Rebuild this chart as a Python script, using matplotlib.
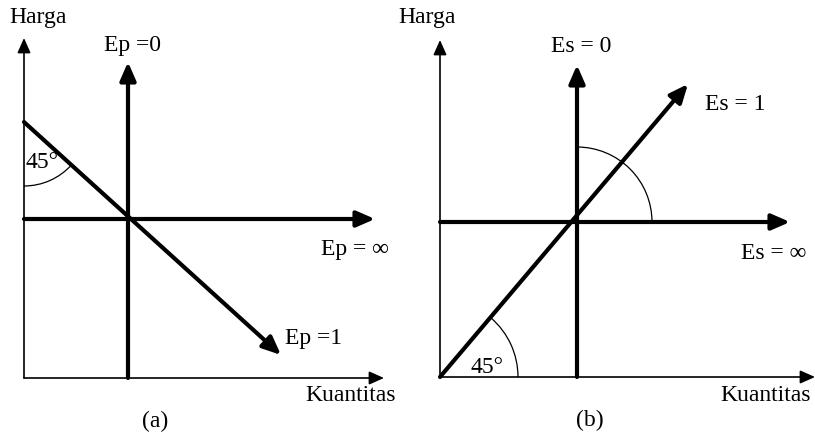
import numpy as np
import matplotlib
matplotlib.use("Agg")
import matplotlib.pyplot as plt
from matplotlib.patches import Arc

plt.rcParams['font.family'] = ['Liberation Serif', 'DejaVu Serif']

# diagram geometry in pixel units (x right, y down)
# panel (a): demand elasticity
a_origin = (24, 378)
a_y_axis_tip = (24, 38)
a_x_axis_tip = (384, 378)
a_ep0 = [(128, 378), (128, 62)]
a_epinf = [(24, 219), (375, 219)]
a_ep1 = [(24, 122), (281, 355)]
a_arc = dict(center=(24, 122), radius=64, theta=(-90, -42))

# panel (b): supply elasticity
b_origin = (440, 377)
b_y_axis_tip = (440, 40)
b_x_axis_tip = (815, 377)
b_es0 = [(577, 377), (577, 65)]
b_esinf = [(440, 222), (790, 222)]
b_es1 = [(440, 377), (688, 84)]
b_arc_top = dict(center=(577, 222), radius=75, theta=(0, 90))
b_arc_low = dict(center=(440, 377), radius=78, theta=(0, 49))

labels = [
    ("Harga", 38, 18),
    ("Ep =0", 133, 45),
    ("45°", 42, 162),
    ("Ep = \u221e", 355, 249),
    ("Ep =1", 314, 338),
    ("Kuantitas", 351, 395),
    ("(a)", 155, 421),
    ("Harga", 427, 18),
    ("Es = 0", 581, 47),
    ("Es = 1", 735, 104),
    ("Es = \u221e", 774, 253),
    ("45°", 487, 367),
    ("Kuantitas", 766, 395),
    ("(b)", 590, 420),
]

W, H = 815, 436
fig = plt.figure(figsize=(W / 100, H / 100), dpi=100)
ax = fig.add_axes([0, 0, 1, 1])
ax.set_xlim(0, W)
ax.set_ylim(H, 0)
ax.axis('off')


def arrow(p0, p1, lw, hl=0.55, hw=0.24):
    ax.annotate('', xy=p1, xytext=p0,
                arrowprops=dict(arrowstyle=f'-|>,head_length={hl},head_width={hw}',
                                lw=lw, color='black', mutation_scale=20,
                                shrinkA=0, shrinkB=0))


def arc(spec):
    cx, cy = spec['center']
    r = spec['radius']
    t0, t1 = spec['theta']
    # y axis is inverted, so flip the angles
    ax.add_patch(Arc((cx, cy), 2 * r, 2 * r, theta1=-t1, theta2=-t0,
                     lw=0.9, color='black'))


# panel (a)
arrow(a_origin, a_y_axis_tip, 1.2, 0.45, 0.2)
arrow(a_origin, a_x_axis_tip, 1.2, 0.45, 0.2)
arrow(*a_ep0, 3)
arrow(*a_epinf, 3)
arrow(*a_ep1, 3)
arc(a_arc)

# panel (b)
arrow(b_origin, b_y_axis_tip, 1.2, 0.45, 0.2)
arrow(b_origin, b_x_axis_tip, 1.2, 0.45, 0.2)
arrow(*b_es0, 3)
arrow(*b_esinf, 3)
arrow(*b_es1, 3)
arc(b_arc_top)
arc(b_arc_low)

for txt, x, y in labels:
    ax.text(x, y, txt, fontsize=17, ha='center', va='center', color='black')

fig.savefig('out.png', dpi=100)
